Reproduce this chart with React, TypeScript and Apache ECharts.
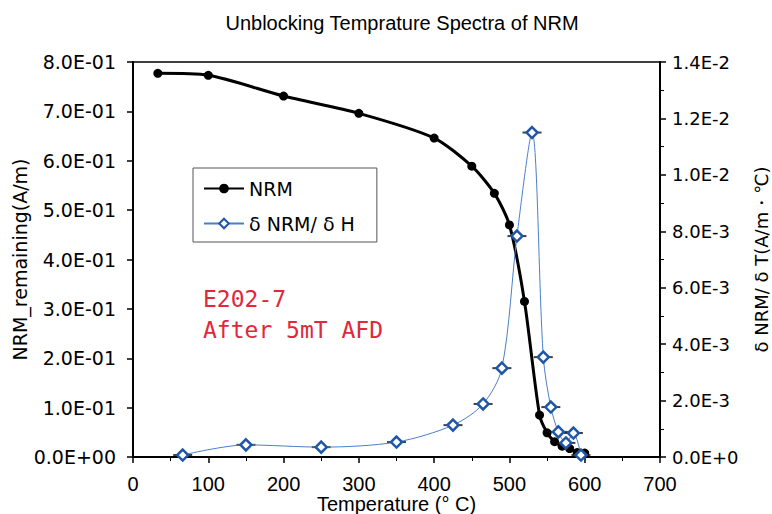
import React, { useEffect, useRef } from "react";
import * as echarts from "echarts";

const titleText = "Unblocking Temprature Spectra of NRM";
const nrmTemps = [33, 100, 200, 300, 400, 450, 480, 500, 520, 540, 550, 560, 570, 580, 590, 600];
const nrmValues = [0.777, 0.773, 0.731, 0.696, 0.646, 0.589, 0.534, 0.47, 0.315, 0.085, 0.049, 0.031, 0.022, 0.017, 0.009, 0.008];
const dTemps = [66, 150, 250, 350, 425, 465, 490, 510, 530, 545, 555, 565, 575, 585, 595];
const dValues = [0.00007, 0.00043, 0.00035, 0.00053, 0.00113, 0.00188, 0.00315, 0.00783, 0.0115, 0.00354, 0.00177, 0.00089, 0.0005, 0.00085, 0.00007];
const seriesNames = ["NRM", "δ NRM/ δ H"];
const annotation = "E202-7\nAfter 5mT AFD";

function leftFmt(v: number) {
  const s = v.toExponential(1).toUpperCase();
  const m = s.match(/^(.*)E([+-])(\d+)$/);
  if (!m) return s;
  return m[1] + "E" + m[2] + m[3].padStart(2, "0");
}
function rightFmt(v: number) {
  return v.toExponential(1).toUpperCase();
}

export default function App() {
  const ref = useRef<HTMLDivElement>(null);
  useEffect(() => {
    if (!ref.current) return;
    const chart = echarts.init(ref.current, null, { renderer: "svg" });
    const arial = "'Liberation Sans', Arial, sans-serif";
    const sans = "'DejaVu Sans', sans-serif";
    const dPairs = dTemps.map((t, i) => [t, dValues[i]]);
    chart.setOption({
      animation: false,
      backgroundColor: "#fff",
      title: {
        text: titleText,
        left: 397,
        top: 8,
        textAlign: "center",
        textStyle: { fontFamily: arial, fontSize: 20, fontWeight: "normal", color: "#000" },
      },
      grid: {
        left: 133,
        right: 112,
        top: 62,
        bottom: 57,
        show: true,
        borderColor: "#000",
        borderWidth: 1.5,
        containLabel: false,
        outerBoundsMode: "none",
      },
      legend: {
        left: 193,
        top: 168,
        orient: "vertical",
        padding: [11, 22, 9, 10],
        itemGap: 16,
        itemWidth: 40,
        itemHeight: 12,
        borderColor: "#555",
        borderWidth: 1,
        backgroundColor: "#fff",
        textStyle: { fontFamily: sans, fontSize: 19, color: "#000" },
        data: seriesNames,
      },
      xAxis: {
        type: "value",
        min: 0,
        max: 700,
        interval: 100,
        name: "Temperature (° C)",
        nameLocation: "middle",
        nameGap: 37,
        nameMoveOverlap: false,
        nameTextStyle: { fontFamily: arial, fontSize: 20, color: "#000" },
        axisLine: { show: true, lineStyle: { color: "#000", width: 2 } },
        axisTick: { show: true, inside: false, length: 6, lineStyle: { color: "#000", width: 1.5 } },
        minorTick: { show: true, splitNumber: 2, length: 4, lineStyle: { color: "#000" } },
        axisLabel: { fontFamily: arial, fontSize: 20, color: "#000", margin: 17 },
        splitLine: { show: false },
      },
      yAxis: [
        {
          type: "value",
          min: 0,
          max: 0.8,
          interval: 0.1,
          name: "NRM_remaining(A/m)",
          nameLocation: "middle",
          nameGap: 104,
          nameRotate: 90,
          nameMoveOverlap: false,
          nameTextStyle: { fontFamily: sans, fontSize: 19, color: "#000" },
          axisLine: { show: true, lineStyle: { color: "#000", width: 2 } },
          axisTick: { show: true, inside: false, length: 6, lineStyle: { color: "#000", width: 1.5 } },
          axisLabel: { fontFamily: sans, fontSize: 19, color: "#000", margin: 17, formatter: leftFmt },
          splitLine: { show: false },
        },
        {
          type: "value",
          min: 0,
          max: 0.014,
          interval: 0.002,
          position: "right",
          name: "δ NRM/ δ T(A/m・℃)",
          nameLocation: "middle",
          nameGap: 92,
          nameRotate: 90,
          nameMoveOverlap: false,
          nameTextStyle: { fontFamily: sans, fontSize: 18, color: "#000" },
          axisLine: { show: true, lineStyle: { color: "#000", width: 2 } },
          axisTick: { show: true, inside: false, length: 6, lineStyle: { color: "#000", width: 1.5 } },
          minorTick: { show: true, splitNumber: 2, length: 4, lineStyle: { color: "#000" } },
          axisLabel: { fontFamily: sans, fontSize: 18, color: "#000", margin: 12, formatter: rightFmt },
          splitLine: { show: false },
        },
      ],
      series: [
        {
          name: seriesNames[0],
          type: "line",
          yAxisIndex: 0,
          data: nrmTemps.map((t, i) => [t, nrmValues[i]]),
          smooth: 0.25,
          symbol: "circle",
          symbolSize: 9,
          lineStyle: { color: "#000", width: 3 },
          itemStyle: { color: "#000" },
          z: 2,
        },
        {
          name: "bars",
          type: "scatter",
          yAxisIndex: 1,
          data: dPairs,
          symbol: "rect",
          symbolSize: [19, 2],
          itemStyle: { color: "#111" },
          silent: true,
          z: 3,
        },
        {
          name: seriesNames[1],
          type: "line",
          yAxisIndex: 1,
          data: dPairs,
          smooth: 0.3,
          symbol: "diamond",
          symbolSize: 11,
          lineStyle: { color: "#4a7fc8", width: 1 },
          itemStyle: { color: "#fff", borderColor: "#1f56a8", borderWidth: 2.5 },
          z: 4,
        },
      ],
      graphic: [
        {
          type: "text",
          left: 203,
          top: 283,
          style: {
            text: annotation,
            fontFamily: "'DejaVu Sans Mono', monospace",
            fontSize: 23,
            lineHeight: 31,
            fill: "#e0283c",
          },
        },
      ],
    });
    return () => chart.dispose();
  }, []);
  return <div ref={ref} style={{ width: 772, height: 514, position: "absolute", left: 0, top: 0 }} />;
}
